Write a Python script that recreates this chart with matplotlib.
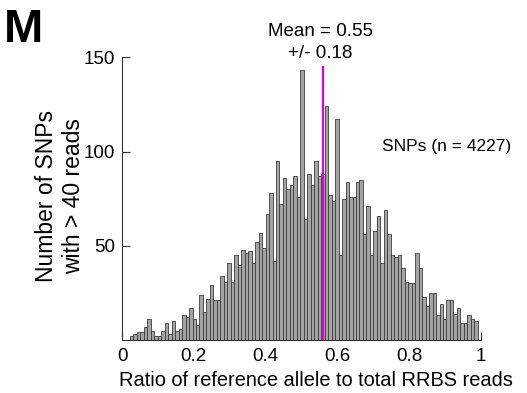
import matplotlib
matplotlib.use("Agg")
import matplotlib.pyplot as plt
import numpy as np

plt.rcParams['font.family'] = ['Liberation Sans', 'DejaVu Sans']

# Histogram counts (100 bins)
counts = [2, 3, 4, 4, 7, 11, 5, 2, 2, 5,
          9, 3, 10, 5, 6, 13, 12, 17, 11, 8,
          24, 15, 22, 29, 21, 21, 34, 31, 41, 31,
          45, 40, 48, 46, 47, 41, 52, 57, 49, 67,
          78, 42, 95, 72, 86, 80, 82, 87, 76, 143,
          64, 88, 82, 95, 87, 88, 124, 77, 74, 117,
          45, 75, 84, 76, 76, 84, 85, 56, 71, 45,
          58, 66, 41, 69, 56, 45, 44, 45, 38, 31,
          30, 30, 46, 38, 23, 18, 25, 25, 13, 19,
          11, 21, 21, 14, 17, 9, 9, 13, 11, 10]
bin_lo, bin_hi = 0.022, 0.991
mean_x = 0.56
mean_top = 145
x_ticks = [0, 0.2, 0.4, 0.6, 0.8, 1]
x_ticklabels = ['0', '0.2', '0.4', '0.6', '0.8', '1']
y_ticks = [50, 100, 150]

fig = plt.figure(figsize=(5.27, 3.93), dpi=100)
ax = fig.add_axes([122/527, 1-340/393, (481-122)/527, (340-57.3)/393])

edges = np.linspace(bin_lo, bin_hi, len(counts) + 1)
ax.bar(edges[:-1], counts, width=np.diff(edges), align='edge',
       color='#a4a4a4', edgecolor='#3c3c3c', linewidth=0.6, zorder=2)
ax.plot([mean_x, mean_x], [0, mean_top], color='#e000e0', linewidth=1.6, zorder=3)

ax.set_xlim(0, 1)
ax.set_ylim(0, 150)
ax.set_xticks(x_ticks)
ax.set_xticklabels(x_ticklabels)
ax.set_yticks(y_ticks)
ax.set_axisbelow(True)
ax.tick_params(direction='in', length=6, width=0.8, labelsize=13.5, colors='#333333',
               labelcolor='black')
ax.tick_params(axis='x', pad=6)
ax.tick_params(axis='y', pad=5)
for s in ['top', 'right']:
    ax.spines[s].set_visible(False)
for s in ['left', 'bottom']:
    ax.spines[s].set_color('#333333')
    ax.spines[s].set_linewidth(0.8)

fig.text(4/527, 1-42/393, 'M', fontsize=34, fontweight='bold', ha='left', va='baseline')
fig.text(320/527, 1-32/393, 'Mean = 0.55', fontsize=13.5, ha='center', va='center')
fig.text(320/527, 1-53/393, '+/- 0.18', fontsize=13.5, ha='center', va='center')
fig.text(447/527, 1-146/393, 'SNPs (n = 4227)', fontsize=12.5, ha='center', va='center')
fig.text(60/527, 1-196/393, 'Number of SNPs\nwith > 40 reads', fontsize=16.5,
         rotation=90, ha='center', va='center', linespacing=1.25)
fig.text(316/527, 1-381/393, 'Ratio of reference allele to total RRBS reads',
         fontsize=14.4, ha='center', va='center')

fig.savefig('out.png', dpi=100)
